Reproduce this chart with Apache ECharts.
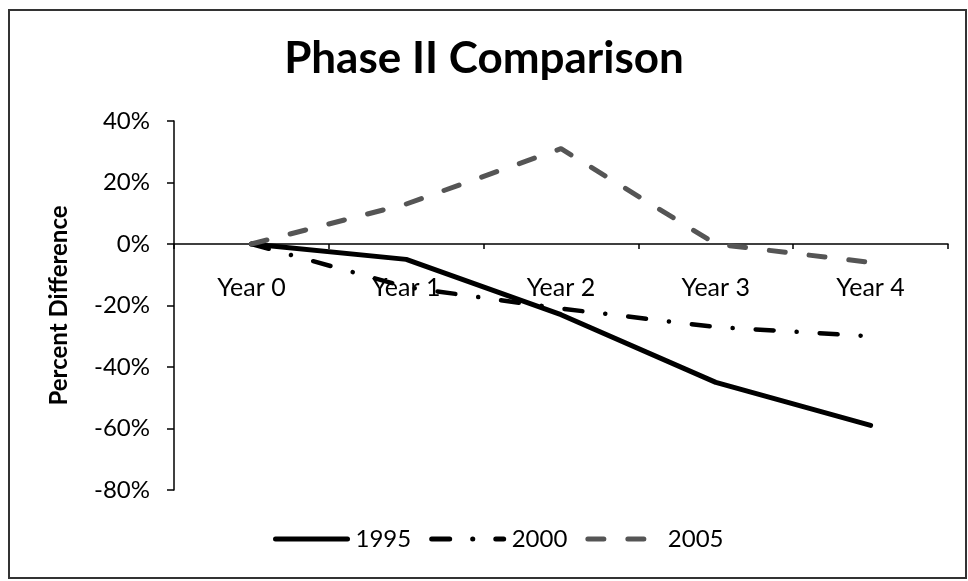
<!DOCTYPE html>
<html>
<head>
<meta charset="utf-8">
<script src="https://cdn.jsdelivr.net/npm/echarts@6/dist/echarts.min.js"></script>
<style>
  html, body { margin: 0; padding: 0; background: #fff; }
  #chart { width: 968px; height: 581px; }
</style>
</head>
<body>
<div id="chart"></div>
<script>
// Categories and series values (percent difference)
const years = ['Year 0', 'Year 1', 'Year 2', 'Year 3', 'Year 4'];
const s1995 = [0, -5, -23, -45, -59];
const s2000 = [0, -14, -21, -27, -30];
const s2005 = [0, 13, 31, 0, -6];
const seriesNames = ['1995', '2000', '2005'];

const FONT = 'Lato, "Open Sans", sans-serif';
const Y_MIN = -80, Y_MAX = 40;
const GRID_TOP = 121, GRID_BOTTOM = 91, H = 581;

// Category axis sits on the zero line: shift it up from the grid bottom
const plotH = H - GRID_TOP - GRID_BOTTOM;
const zeroOffset = -plotH * (0 - Y_MIN) / (Y_MAX - Y_MIN);

const chart = echarts.init(document.getElementById('chart'), null, { renderer: 'canvas' });

chart.setOption({
  backgroundColor: '#fff',
  animation: false,
  title: {
    text: 'Phase II Comparison',
    left: 'center',
    top: 32,
    textStyle: { fontFamily: FONT, fontWeight: 'bold', fontSize: 44, color: '#000' }
  },
  graphic: [{
    type: 'rect',
    shape: { x: 9, y: 10, width: 957, height: 568 },
    style: { fill: null, stroke: '#333', lineWidth: 2 },
    silent: true
  }],
  legend: {
    data: seriesNames,
    bottom: 25,
    left: 268,
    itemWidth: 72,
    itemHeight: 20,
    itemGap: 18,
    itemStyle: { opacity: 0 },
    lineStyle: { width: 5 },
    textStyle: { fontFamily: FONT, fontSize: 24, color: '#000', padding: [0, 0, 0, 3] }
  },
  grid: { left: 174, right: 20, top: GRID_TOP, bottom: GRID_BOTTOM, containLabel: false },
  xAxis: {
    type: 'category',
    data: years,
    boundaryGap: true,
    offset: zeroOffset,
    axisLine: { onZero: false, lineStyle: { color: '#000', width: 1.5 } },
    axisTick: { show: true, interval: 0, length: 5, lineStyle: { color: '#000', width: 1.5 } },
    axisLabel: { margin: 31, fontFamily: FONT, fontSize: 25, color: '#000', interval: 0 },
    splitLine: { show: false }
  },
  yAxis: {
    type: 'value',
    min: Y_MIN,
    max: Y_MAX,
    interval: 20,
    name: 'Percent Difference',
    nameLocation: 'middle',
    nameGap: 103,
    nameRotate: 90,
    nameTextStyle: { fontFamily: FONT, fontWeight: 'bold', fontSize: 24, color: '#000' },
    axisLine: { show: true, lineStyle: { color: '#000', width: 1.5 } },
    axisTick: { show: true, length: 7, lineStyle: { color: '#000', width: 1.5 } },
    axisLabel: { margin: 24, fontFamily: FONT, fontSize: 24, color: '#000', formatter: '{value}%' },
    splitLine: { show: false }
  },
  series: [
    {
      name: '1995',
      type: 'line',
      data: s1995,
      symbol: 'none',
      lineStyle: { color: '#000', width: 5, type: 'solid', cap: 'round', join: 'round' },
      itemStyle: { color: '#000' }
    },
    {
      name: '2000',
      type: 'line',
      data: s2000,
      symbol: 'none',
      lineStyle: { color: '#000', width: 4.5, type: [18, 23, 0.1, 23], cap: 'round', join: 'round' },
      itemStyle: { color: '#000' }
    },
    {
      name: '2005',
      type: 'line',
      data: s2005,
      symbol: 'none',
      lineStyle: { color: '#555', width: 5, type: [16, 24], cap: 'round', join: 'round' },
      itemStyle: { color: '#555' }
    }
  ]
});
</script>
</body>
</html>
